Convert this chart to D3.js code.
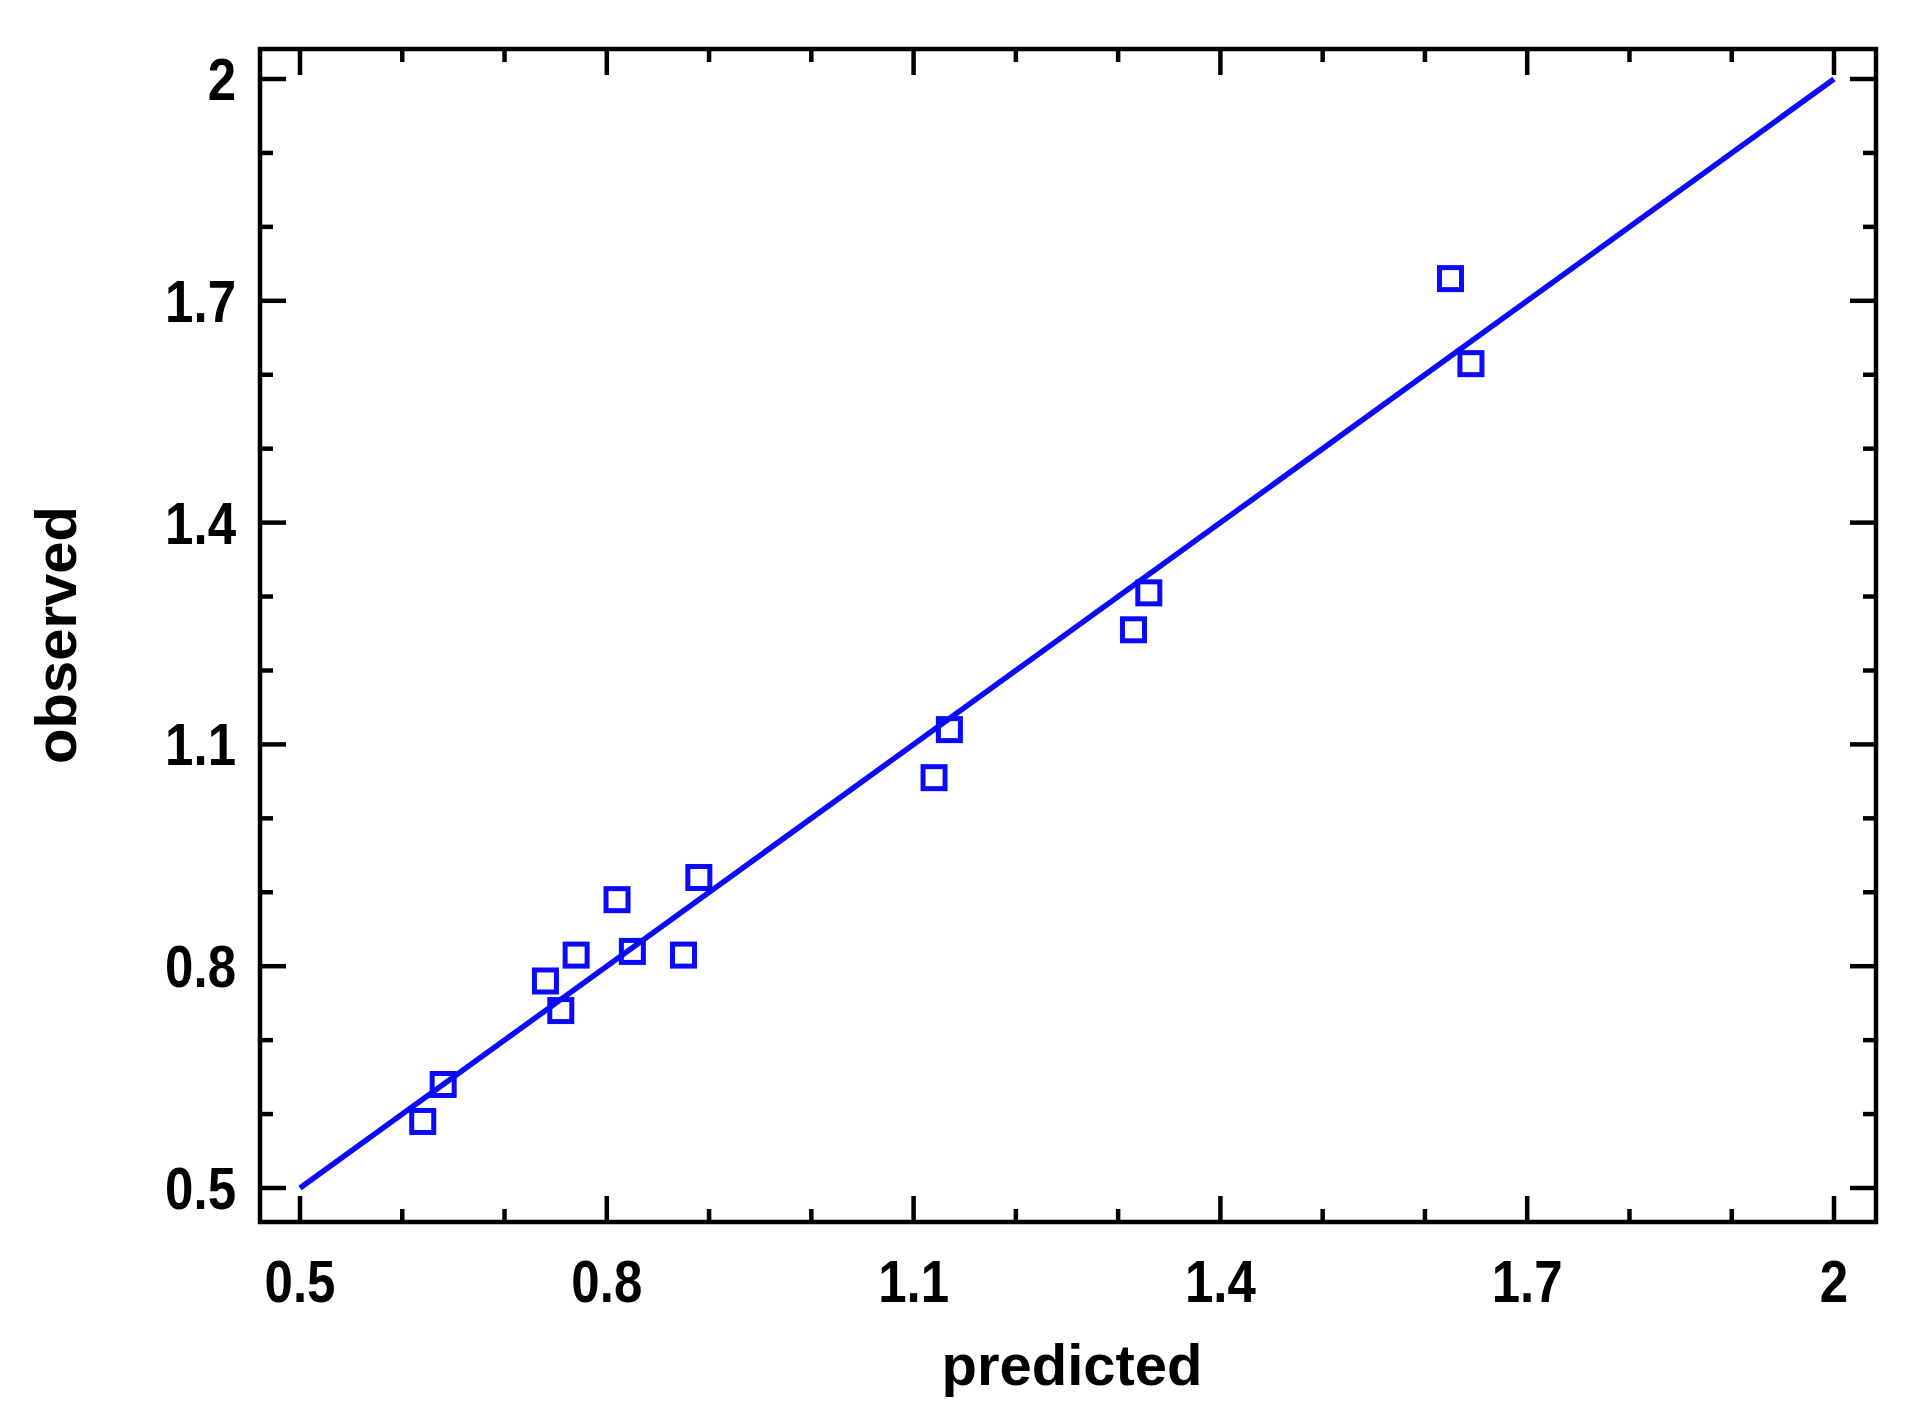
<!DOCTYPE html><html><head><meta charset="utf-8"><script src="https://cdn.jsdelivr.net/npm/d3@7"></script>
<style>body{margin:0;background:#fff}text{font-family:"Liberation Sans",Arial,sans-serif;font-weight:bold}</style></head><body>
<svg id="c" width="1921" height="1423"></svg>
<script>
const predicted=[0.62,0.64,0.74,0.755,0.77,0.81,0.825,0.875,0.89,1.12,1.135,1.315,1.33,1.625,1.645];
const observed=[0.59,0.64,0.78,0.74,0.815,0.89,0.82,0.815,0.92,1.055,1.12,1.255,1.305,1.73,1.615];
const majorTicks=[0.5,0.8,1.1,1.4,1.7,2];
const minorTicks=[0.6,0.7,0.9,1.0,1.2,1.3,1.5,1.6,1.8,1.9];
const fitLine=[[0.5,0.5],[2,2]];
const svg=d3.select("#c");
const L=260,R=1876,T=49,B=1222;
const x=d3.scaleLinear().domain([0.5,2]).range([300,1834]);
const y=d3.scaleLinear().domain([0.5,2]).range([1188,79]);
const blue="#0a0aff";
const fmt=d=>d===2?"2":d3.format(".1f")(d);
const g=svg.append("g").attr("stroke","#000").attr("stroke-width",4.5);
const tk=(arr,len)=>{arr.forEach(v=>{
 g.append("line").attr("x1",x(v)).attr("x2",x(v)).attr("y1",B).attr("y2",B-len);
 g.append("line").attr("x1",x(v)).attr("x2",x(v)).attr("y1",T).attr("y2",T+len);
 g.append("line").attr("y1",y(v)).attr("y2",y(v)).attr("x1",L).attr("x2",L+len);
 g.append("line").attr("y1",y(v)).attr("y2",y(v)).attr("x1",R).attr("x2",R-len);
});};
tk(majorTicks,26);tk(minorTicks,13);
svg.append("rect").attr("x",L).attr("y",T).attr("width",R-L).attr("height",B-T).attr("fill","none").attr("stroke","#000").attr("stroke-width",4.5);
svg.append("path").attr("d",d3.line().x(d=>x(d[0])).y(d=>y(d[1]))(fitLine)).attr("stroke",blue).attr("stroke-width",5.5).attr("fill","none");
svg.selectAll(".m").data(predicted).enter().append("rect").attr("x",(d)=>x(d)-11).attr("y",(d,i)=>y(observed[i])-11)
 .attr("width",22).attr("height",22).attr("fill","none").attr("stroke",blue).attr("stroke-width",5);
majorTicks.forEach(v=>{
 svg.append("text").attr("transform",`translate(${x(v)},1302) scale(0.85,1)`).attr("text-anchor","middle").attr("font-size",60).text(fmt(v));
 svg.append("text").attr("transform",`translate(236,${y(v)+21}) scale(0.85,1)`).attr("text-anchor","end").attr("font-size",60).text(fmt(v));
});
svg.append("text").attr("x",1072).attr("y",1385).attr("text-anchor","middle").attr("font-size",58).text("predicted");
svg.append("text").attr("transform","translate(76,635) rotate(-90)").attr("text-anchor","middle").attr("font-size",58).text("observed");
</script></body></html>
